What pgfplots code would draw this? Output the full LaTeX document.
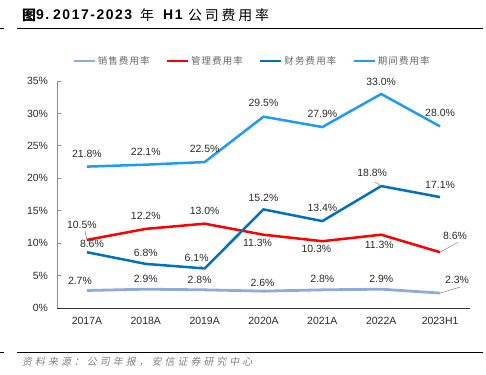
\documentclass[border=0pt]{standalone}
\usepackage{pgfplots}
\pgfplotsset{compat=1.18}
\usepackage{fontspec}
\setmainfont{Liberation Sans}
\newfontfamily\titlelat{Liberation Sans}[LetterSpace=11]
\newfontfamily\cjk{Noto Sans CJK SC}
\newfontfamily\cjktitle{Noto Sans CJK SC}[LetterSpace=20]
\newfontfamily\cjkleg{Noto Sans CJK SC}[LetterSpace=12]
\newfontfamily\cjkfoot{Noto Sans CJK SC}[FakeSlant=0.2,LetterSpace=30]
\definecolor{cXS}{RGB}{143,170,220}
\definecolor{cGL}{RGB}{255,0,0}
\definecolor{cCW}{RGB}{0,112,192}
\definecolor{cQJ}{RGB}{30,155,245}
\definecolor{txt}{RGB}{40,40,40}
\newcommand{\lab}[5]{\node[font=\fontsize{10.5}{12}\selectfont,text=txt,inner sep=0pt,xshift=#3bp,yshift=#4bp] at (axis cs:#1,#2) {#5};}
\newcommand{\lead}[4]{\draw[gray,line width=0.5bp] (axis cs:#1,#2) -- ++(#3bp,#4bp);}
\begin{document}
\begin{tikzpicture}
\path[use as bounding box] (0,0) rectangle (486bp,375bp);
% title
\begin{scope}[every node/.style={anchor=west,inner sep=0pt,font=\fontsize{14}{16}\selectfont}]
\node at (22bp,360bp) {\cjk\bfseries 图};
\node at (36bp,360bp) {\titlelat\bfseries 9.};
\node at (53bp,360bp) {\titlelat\bfseries 2017-2023};
\node at (140bp,360bp) {\cjk 年};
\node at (163bp,360bp) {\titlelat\bfseries H1};
\node at (188bp,360bp) {\cjktitle 公司费用率};
\end{scope}
\draw[black,line width=1bp] (17bp,346.5bp) -- (483bp,346.5bp);
\draw[black,line width=1bp] (0bp,346bp) -- (4bp,346bp);
% footer
\draw[black,line width=1bp] (17bp,22.3bp) -- (483bp,22.3bp);
\draw[black,line width=1bp] (0bp,22bp) -- (4bp,22bp);
\node[anchor=west,inner sep=0pt,font=\fontsize{10}{12}\selectfont,text=gray] at (22bp,13bp) {\cjkfoot 资料来源：公司年报，安信证券研究中心};
\begin{axis}[
  at={(57.5bp,67bp)}, anchor=south west,
  scale only axis, width=412bp, height=227bp,
  xmin=-0.5, xmax=6.5, ymin=0, ymax=35,
  axis lines*=left,
  x axis line style={black!80,line width=0.8bp},
  y axis line style={black!45,line width=0.8bp},
  xtick={0,...,6},
  xticklabels={2017A,2018A,2019A,2020A,2021A,2022A,2023H1},
  xtick style={draw=none},
  ytick={0,5,...,35},
  yticklabels={0\%,5\%,10\%,15\%,20\%,25\%,30\%,35\%},
  ytick style={black!45,line width=0.8bp},
  tick align=inside, major tick length=3bp,
  ticklabel style={font=\fontsize{10.5}{12}\selectfont,text=txt},
  yticklabel style={xshift=-6bp},
  xticklabel style={yshift=-6bp},
  clip=false,
  legend columns=4,
  legend style={at={(0.472,1.088)},anchor=center,draw=none,fill=none,
    font=\fontsize{9.5}{11}\selectfont\cjkleg,text=gray!80!black,
    /tikz/every even column/.append style={column sep=14bp},
    inner sep=0pt, row sep=0pt},
  legend image code/.code={\draw[#1,line width=2.5bp] (0bp,0bp) -- (21bp,0bp);},
]
\addplot[cXS,line width=2.8bp] coordinates {(0,2.7)(1,2.9)(2,2.8)(3,2.6)(4,2.8)(5,2.9)(6,2.3)};
\addlegendentry{销售费用率}
\addplot[cGL,line width=2.5bp] coordinates {(0,10.5)(1,12.2)(2,13.0)(3,11.3)(4,10.3)(5,11.3)(6,8.6)};
\addlegendentry{管理费用率}
\addplot[cCW,line width=2.5bp] coordinates {(0,8.6)(1,6.8)(2,6.1)(3,15.2)(4,13.4)(5,18.8)(6,17.1)};
\addlegendentry{财务费用率}
\addplot[cQJ,line width=2.5bp] coordinates {(0,21.8)(1,22.1)(2,22.5)(3,29.5)(4,27.9)(5,33.0)(6,28.0)};
\addlegendentry{期间费用率}
% 销售
\lab{0}{2.7}{-7}{10}{2.7\%}
\lab{1}{2.9}{0}{10}{2.9\%}
\lab{2}{2.8}{-5}{10}{2.8\%}
\lab{3}{2.6}{-1}{8}{2.6\%}
\lab{4}{2.8}{0}{11}{2.8\%}
\lab{5}{2.9}{0}{10}{2.9\%}
\lab{6}{2.3}{17}{13}{2.3\%}
\lead{6}{2.3}{20}{6}
% 管理
\lab{0}{10.5}{-5}{15}{10.5\%}
\lead{0}{10.5}{-2}{9}
\lab{1}{12.2}{0}{13}{12.2\%}
\lab{2}{13.0}{0}{13}{13.0\%}
\lab{3}{11.3}{-6}{-8}{11.3\%}
\lab{4}{10.3}{-6}{-8}{10.3\%}
\lab{5}{11.3}{-2}{-10}{11.3\%}
\lab{6}{8.6}{15}{16}{8.6\%}
\lead{6}{8.6}{18}{10}
% 财务
\lab{0}{8.6}{5}{8}{8.6\%}
\lab{1}{6.8}{0}{11}{6.8\%}
\lab{2}{6.1}{-8}{11}{6.1\%}
\lead{2}{6.1}{-5}{3}
\lab{3}{15.2}{0}{12}{15.2\%}
\lab{4}{13.4}{0}{13}{13.4\%}
\lab{5}{18.8}{-9}{13}{18.8\%}
\lead{5}{18.8}{-6}{4}
\lab{6}{17.1}{0}{12}{17.1\%}
% 期间
\lab{0}{21.8}{0}{13}{21.8\%}
\lab{1}{22.1}{0}{13}{22.1\%}
\lab{2}{22.5}{0}{13}{22.5\%}
\lab{3}{29.5}{0}{14}{29.5\%}
\lab{4}{27.9}{0}{13}{27.9\%}
\lab{5}{33.0}{0}{12}{33.0\%}
\lab{6}{28.0}{0}{13}{28.0\%}
\end{axis}
\end{tikzpicture}
\end{document}
